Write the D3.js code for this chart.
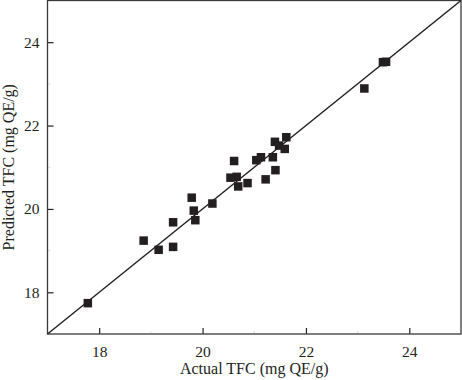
<!DOCTYPE html>
<html lang="en">
<head>
  <meta charset="UTF-8">
  <title>Predicted vs actual TFC</title>
  <style>
    body { margin: 0; background: #fff; }
    text { font-family: "Liberation Serif", "DejaVu Serif", serif; fill: #231f20; }
  </style>
</head>
<body>
  <script src="https://cdn.jsdelivr.net/npm/d3@7"></script>
  <script>
    // values
    const actual = [17.78, 18.86, 19.15, 19.43, 19.43, 19.79, 19.83, 19.86, 20.19,
      20.54, 20.61, 20.66, 20.69, 20.87, 21.04, 21.13, 21.22, 21.36, 21.40, 21.41,
      21.48, 21.59, 21.62, 23.13, 23.49, 23.55];
    const predicted = [17.74, 19.24, 19.02, 19.68, 19.09, 20.27, 19.96, 19.73, 20.13,
      20.75, 21.15, 20.77, 20.54, 20.62, 21.17, 21.24, 20.71, 21.24, 21.61, 20.93,
      21.52, 21.44, 21.72, 22.89, 23.52, 23.53];
    const majorTicks = [18, 20, 22, 24];
    const minorTicks = [19, 21, 23];
    const domain = [17, 25];

    function scatterChart() {
      const _chart = {};
      const _width = 462, _height = 380;
      const _left = 47.5, _right = 461, _top = 0.5, _bottom = 334;
      const _ink = '#231f20';
      let _svg;

      const x = d3.scaleLinear().domain(domain).range([_left, _right]);
      const y = d3.scaleLinear().domain(domain).range([_bottom, _top]);

      _chart.render = function () {
        _svg = d3.select('body').append('svg')
          .attr('width', _width)
          .attr('height', _height);
        renderAxes();
        renderLine();
        renderPoints();
        renderTitles();
      };

      function renderAxes() {
        // faint minor ticks
        const minor = _svg.append('g').attr('class', 'minor');
        minor.selectAll('line.mx').data(minorTicks).enter().append('line')
          .attr('x1', d => x(d)).attr('x2', d => x(d))
          .attr('y1', _bottom).attr('y2', _bottom - 3)
          .attr('stroke', '#ddd');
        minor.selectAll('line.my').data(minorTicks).enter().append('line')
          .attr('y1', d => y(d)).attr('y2', d => y(d))
          .attr('x1', _left).attr('x2', _left + 3)
          .attr('stroke', '#ddd');

        const xAxis = d3.axisBottom(x).tickValues(majorTicks)
          .tickSizeInner(-6).tickSizeOuter(0).tickPadding(12);
        const yAxis = d3.axisLeft(y).tickValues(majorTicks)
          .tickSizeInner(-6).tickSizeOuter(0).tickPadding(12);

        const gx = _svg.append('g')
          .attr('transform', `translate(0,${_bottom})`)
          .call(xAxis);
        const gy = _svg.append('g')
          .attr('transform', `translate(${_left},0)`)
          .call(yAxis);

        [gx, gy].forEach(g => {
          g.select('.domain').remove();
          g.selectAll('line').attr('stroke', _ink).attr('stroke-width', 1.2);
          g.selectAll('text')
            .attr('font-family', '"Liberation Serif", serif')
            .attr('font-size', 15.5)
            .attr('fill', _ink);
        });
        gy.selectAll('text').attr('x', -8);

        // frame
        _svg.append('rect')
          .attr('x', _left).attr('y', _top)
          .attr('width', _right - _left).attr('height', _bottom - _top)
          .attr('fill', 'none')
          .attr('stroke', '#3a3a3a')
          .attr('stroke-width', 1.3);
      }

      function renderLine() {
        _svg.append('line')
          .attr('x1', x(domain[0])).attr('y1', y(domain[0]))
          .attr('x2', x(domain[1])).attr('y2', y(domain[1]))
          .attr('stroke', _ink)
          .attr('stroke-width', 1.4);
      }

      function renderPoints() {
        const s = 8.5;
        _svg.append('g').selectAll('rect.pt')
          .data(actual.map((a, i) => ({ a, p: predicted[i] })))
          .enter().append('rect')
          .attr('class', 'pt')
          .attr('x', d => x(d.a) - s / 2)
          .attr('y', d => y(d.p) - s / 2)
          .attr('width', s).attr('height', s)
          .attr('fill', _ink);
      }

      function renderTitles() {
        _svg.append('text')
          .attr('x', (_left + _right) / 2)
          .attr('y', 374)
          .attr('text-anchor', 'middle')
          .attr('font-size', 16)
          .text('Actual TFC (mg QE/g)');
        _svg.append('text')
          .attr('transform', `translate(14,${(_top + _bottom) / 2}) rotate(-90)`)
          .attr('text-anchor', 'middle')
          .attr('font-size', 16)
          .text('Predicted TFC (mg QE/g)');
      }

      return _chart;
    }

    scatterChart().render();
  </script>
</body>
</html>
